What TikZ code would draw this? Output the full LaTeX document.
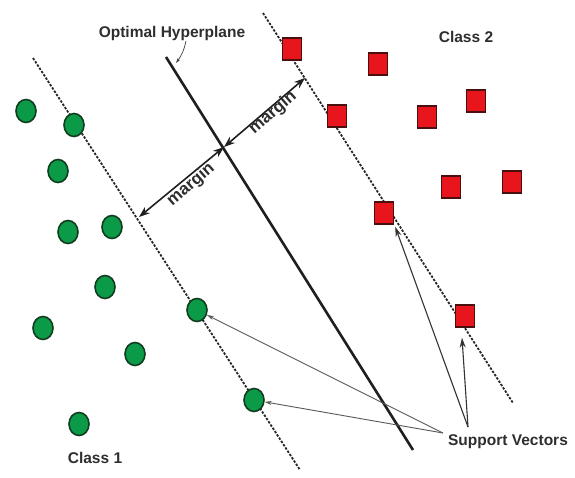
\documentclass[tikz,border=0pt]{standalone}
\usepackage{fontspec}
\setmainfont{Liberation Sans}
\usetikzlibrary{shapes.geometric,arrows.meta,calc}
\definecolor{cgreen}{HTML}{0B9A48}
\definecolor{cgreenb}{HTML}{123C1E}
\definecolor{cred}{HTML}{E8161C}
\definecolor{credb}{HTML}{4A1010}
\definecolor{txt}{HTML}{2E2E2E}
\tikzset{
  pt1/.style={ellipse,draw=cgreenb,line width=1.6pt,fill=cgreen,minimum width=20pt,minimum height=23pt,inner sep=0pt},
  pt2/.style={rectangle,draw=credb,line width=1.4pt,fill=cred,minimum width=19pt,minimum height=22pt,inner sep=0pt},
  lbl/.style={font=\bfseries\fontsize{15.5}{18}\selectfont,text=txt,inner sep=0pt},
  mlbl/.style={font=\bfseries\fontsize{17}{19}\selectfont,text=txt,inner sep=0pt,rotate=41},
  dline/.style={line width=1.8pt,dash pattern=on 2.4pt off 1.5pt,color=black!85},
  hyper/.style={line width=2.6pt,color=black!88},
  marg/.style={line width=1.6pt,color=black!88,{Stealth[length=11pt,width=8pt]}-{Stealth[length=11pt,width=8pt]}},
  sv/.style={line width=0.9pt,color=black!65,-{Stealth[length=7pt,width=4pt]}},
  svup/.style={line width=1.1pt,color=black!80,-{Stealth[length=10pt,width=6pt]}},
}
\begin{document}
\begin{tikzpicture}[x=1pt,y=-1pt]
\useasboundingbox[fill=white] (0,0) rectangle (575,477);
% lines
\coordinate (ld1) at (33,58);  \coordinate (ld2) at (300,470);
\coordinate (rd1) at (263,13); \coordinate (rd2) at (513,403);
\coordinate (h1) at (166,57);  \coordinate (h2) at (413,450);
\draw[dline] (ld1) -- (ld2);
\draw[dline] (rd1) -- (rd2);
\draw[hyper] (h1) -- (h2);
% class 1
\node[pt1] (c1) at (26,111) {};
\node[pt1] (c2) at (74,125) {};
\node[pt1] (c3) at (58,171) {};
\node[pt1] (c4) at (68,232) {};
\node[pt1] (c5) at (112,227) {};
\node[pt1] (c6) at (105,287) {};
\node[pt1] (c7) at (43,328) {};
\node[pt1] (c8) at (135,354) {};
\node[pt1] (c9) at (197,310) {};
\node[pt1] (c10) at (254,400) {};
\node[pt1] (c11) at (79,424) {};
% class 2
\node[pt2] (s1) at (292,49) {};
\node[pt2] (s2) at (378,64) {};
\node[pt2] (s3) at (337,116) {};
\node[pt2] (s4) at (427,117) {};
\node[pt2] (s5) at (476,101) {};
\node[pt2] (s6) at (451,187) {};
\node[pt2] (s7) at (512,182) {};
\node[pt2] (s8) at (384,213) {};
\node[pt2] (s9) at (465,316) {};
% margins
\coordinate (mL) at (139,217);
\coordinate (mC) at (224,147);
\coordinate (mR) at (305,78);
\draw[marg] (mL) -- (mC);
\draw[marg] (mC) -- (mR);
\node[mlbl] (m1) at (191,185) {margin};
\node[mlbl] (m2) at (273,113) {margin};
% labels
\node[lbl] (oh) at (172,33) {Optimal Hyperplane};
\node[lbl] (cl2) at (466,37) {Class 2};
\node[lbl] (cl1) at (95,458) {Class 1};
\node[lbl] (svl) at (508,442) {Support Vectors};
\coordinate (ohs) at (186,41);
\coordinate (ohe) at (176,63);
\draw[line width=0.7pt,color=black!75,-{Stealth[length=5pt,width=3pt]}] (ohs) to[bend left=12] (ohe);
% support vector arrows
\coordinate (p1) at (443,433);
\coordinate (p2) at (468,427);
\draw[sv] (p1) -- (c9);
\draw[sv] (p1) -- (c10);
\draw[svup] (p2) -- ($(s8.south east)+(1,2)$);
\draw[svup] (p2) -- ($(s9.south)+(-3,10)$);
\end{tikzpicture}
\end{document}
